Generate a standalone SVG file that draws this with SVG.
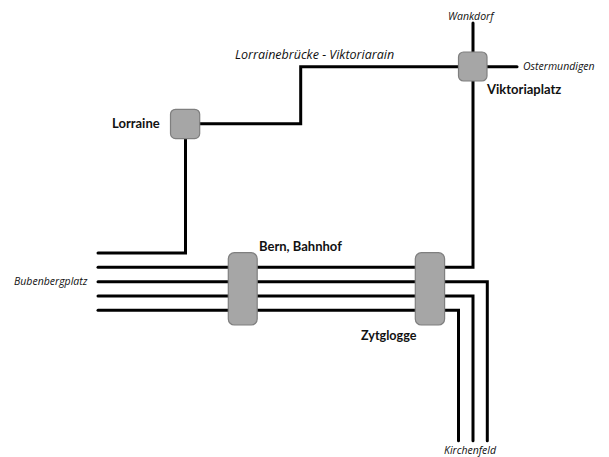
<svg xmlns="http://www.w3.org/2000/svg" width="609" height="457" viewBox="0 0 609 457">
<style>
.l{fill:none;stroke:#000;stroke-width:3;stroke-linecap:round;stroke-linejoin:miter}
.n{fill:#a6a6a6;stroke:#7f7f7f;stroke-width:1.2}
text{fill:#111}
.s{font-family:"Lato","Open Sans","Liberation Sans",sans-serif;font-size:13px;font-weight:700}
.i{font-family:"Open Sans","Liberation Sans",sans-serif;font-size:10.500px;font-style:italic}
</style>
<rect width="609" height="457" fill="#fff"/>
<g id="connectors">
<path class="l" d="M473 23V66.7"/>
<path class="l" d="M487 66.7H517"/>
<path class="l" d="M199.700 123.700H300.700V66.700H458.500"/>
<path class="l" d="M185.500 138.700V253H98"/>
<path class="l" d="M98 267.300H228"/>
<path class="l" d="M98 281.700H228"/>
<path class="l" d="M98 296H228"/>
<path class="l" d="M98 310.300H228"/>
<path class="l" d="M257 267.300H415.300"/>
<path class="l" d="M257 281.700H415.300"/>
<path class="l" d="M257 296H415.300"/>
<path class="l" d="M257 310.300H415.300"/>
<path class="l" d="M444.700 267.300H473V81"/>
<path class="l" d="M444.700 281.700H487.300V440.700"/>
<path class="l" d="M444.700 296H473V440.700"/>
<path class="l" d="M444.700 310.300H458.500V440.700"/>
</g>
<g id="node-viktoriaplatz"><rect class="n" x="458.500" y="52" width="28.500" height="29" rx="5"/><text class="s" x="487" y="94">Viktoriaplatz</text></g>
<g id="node-lorraine"><rect class="n" x="170.500" y="109.300" width="29.200" height="29.300" rx="5"/><text class="s" x="112" y="128">Lorraine</text></g>
<g id="node-bern-bahnhof"><rect class="n" x="228.300" y="252.700" width="28.900" height="72.300" rx="6"/><text class="s" x="259" y="251">Bern, Bahnhof</text></g>
<g id="node-zytglogge"><rect class="n" x="415.300" y="252.700" width="29.300" height="72.300" rx="6"/><text class="s" x="361" y="340" style="font-size:12.600px">Zytglogge</text></g>
<g id="labels">
<text class="i" x="448" y="20">Wankdorf</text>
<text class="i" x="523" y="70">Ostermundigen</text>
<text class="i" x="235" y="58.500" style="font-size:12.500px">Lorrainebrücke - Viktoriarain</text>
<text class="i" x="14" y="285">Bubenbergplatz</text>
<text class="i" x="444" y="454">Kirchenfeld</text>
</g>
</svg>
